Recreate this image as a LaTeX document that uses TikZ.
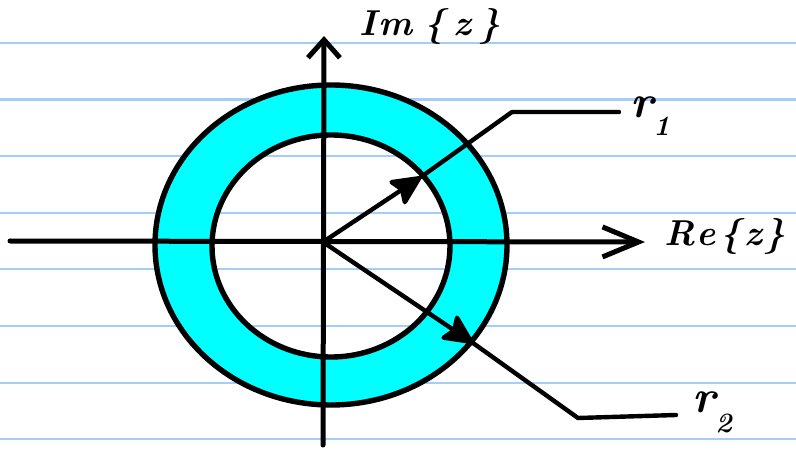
\documentclass[tikz,border=0pt]{standalone}
\usepackage{fontspec}
\usetikzlibrary{arrows.meta}
\definecolor{paperblue}{RGB}{165,205,250}
\definecolor{annulus}{RGB}{0,255,255}
\tikzset{
  paperline/.style={draw=paperblue, line width=2.6pt},
  ink/.style={draw=black, line width=5pt, line cap=round, line join=round},
  axisarrow/.style={ink, -{Straight Barb[length=36pt,width=30pt,line width=5pt]}},
  vaxisarrow/.style={ink, -{Straight Barb[length=18pt,width=32pt,line width=5pt]}},
  radiusarrow/.style={ink, line width=4.4pt, -{Stealth[length=34pt,width=32pt,inset=6pt,round]}},
  hand/.style={font=\fontsize{36}{40}\selectfont\bfseries\itshape, inner sep=0pt},
}
\begin{document}
\begin{tikzpicture}[x=1pt,y=-1pt]
\useasboundingbox (0,0) rectangle (796,449);
\fill[white] (0,0) rectangle (796,449);
% ruled paper
\foreach \yy in {43,99.5,156,213,269,326,383,439}
  \draw[paperline] (0,\yy) -- (796,\yy);
% annulus
\fill[annulus, even odd rule] (331,245) ellipse [x radius=176, y radius=160]
  (331,246) ellipse [x radius=119, y radius=111];
\draw[ink, line width=5.4pt] (331,245) ellipse [x radius=176, y radius=160];
\draw[ink, line width=5.4pt] (331,246) ellipse [x radius=119, y radius=111];
% coordinates
\coordinate (O) at (323,242);
\coordinate (xl) at (10,241);
\coordinate (xr) at (645,242);
\coordinate (yb) at (323,445);
\coordinate (yt) at (324,36);
\coordinate (A1) at (421,177);
\coordinate (C1) at (512,112);
\coordinate (E1) at (619,112);
\coordinate (A2) at (473,343);
\coordinate (C2) at (578,418);
\coordinate (E2) at (676,415);
% axes
\draw[axisarrow] (xl) -- (xr);
\draw[vaxisarrow] (yb) -- (yt);
% radii
\draw[radiusarrow] (O) -- (A1);
\draw[ink, line width=4.4pt] (A1) -- (C1) -- (E1);
\draw[radiusarrow] (O) -- (A2);
\draw[ink, line width=4.4pt] (A2) -- (C2) -- (E2);
% labels
\node[hand] (im) at (430,27) {I\hspace{2pt}m\hspace{12pt}\{\hspace{8pt}z\hspace{8pt}\}};
\node[hand] (re) at (725,237) {R\hspace{1pt}e\hspace{5pt}\{\hspace{3pt}z\hspace{3pt}\}};
\node[hand, anchor=west, font=\fontsize{46}{50}\selectfont\bfseries\itshape] (r1) at (630,116) {r\raisebox{-18pt}{\fontsize{28}{30}\selectfont 1}};
\node[hand, anchor=west, font=\fontsize{46}{50}\selectfont\bfseries\itshape] (r2) at (692,412) {r\raisebox{-20pt}{\fontsize{28}{30}\selectfont 2}};
\end{tikzpicture}
\end{document}
